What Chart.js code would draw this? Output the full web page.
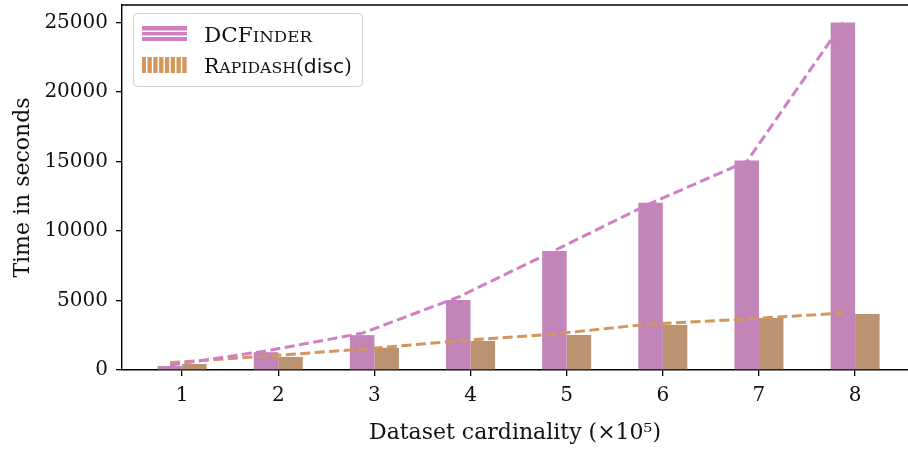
<!DOCTYPE html>
<html>
<head>
<meta charset="utf-8">
<script src="https://cdn.jsdelivr.net/npm/chart.js@4.4.1/dist/chart.umd.min.js"></script>
<style>
  html, body { margin: 0; padding: 0; background: #fff; overflow: hidden; }
</style>
</head>
<body>
<canvas id="myChart" width="908" height="449"></canvas>
<script>
// dataset cardinality in units of 10^5
const cardinality = [1, 2, 3, 4, 5, 6, 7, 8];
// runtimes in seconds (bars)
const dcfinderTime = [290, 1280, 2510, 5040, 8560, 12030, 15060, 25000];
const rapidashTime = [430, 940, 1590, 2090, 2520, 3240, 3740, 4030];
// dashed trend lines
const dcfinderTrend = [350, 1370, 2650, 5250, 8600, 12000, 15000, 25000];
const rapidashTrend = [530, 1000, 1500, 2090, 2590, 3310, 3670, 4100];
const yTicks = [0, 5000, 10000, 15000, 20000, 25000];

const purpleBar = '#c285b7';
const purpleLine = '#d27ec6';
const orangeBar = '#bc9370';
const orangeLine = '#d4965c';
const serif = "'DejaVu Serif', serif";

const lineShift = -0.125;

// top spine (left and bottom come from the axis borders)
const frame = {
  id: 'frame',
  afterDraw(chart) {
    const { ctx, chartArea: a } = chart;
    ctx.save();
    ctx.strokeStyle = '#000';
    ctx.lineWidth = 1.4;
    ctx.beginPath();
    ctx.moveTo(a.left, a.top);
    ctx.lineTo(a.right, a.top);
    ctx.stroke();
    ctx.restore();
  }
};

function drawRuns(ctx, x, y, runs, width) {
  let total = 0;
  runs.forEach(r => { ctx.font = r.font; total += ctx.measureText(r.text).width; });
  ctx.save();
  ctx.translate(x, y);
  ctx.scale(width / total, 1);
  let cx = 0;
  runs.forEach(r => {
    ctx.font = r.font;
    ctx.fillText(r.text, cx, 0);
    cx += ctx.measureText(r.text).width;
  });
  ctx.restore();
}

const legendBox = {
  id: 'legendBox',
  afterDraw(chart) {
    const ctx = chart.ctx;
    ctx.save();
    ctx.beginPath();
    ctx.roundRect(133.5, 13.5, 229, 73, 4);
    ctx.fillStyle = 'rgba(255,255,255,0.8)';
    ctx.fill();
    ctx.strokeStyle = '#d0d0d0';
    ctx.lineWidth = 1;
    ctx.stroke();

    // DCFinder swatch: horizontal hatch
    ctx.fillStyle = purpleLine;
    ctx.fillRect(142, 26, 45, 15);
    ctx.fillStyle = '#fff';
    ctx.fillRect(142, 30.5, 45, 1.5);
    ctx.fillRect(142, 35.5, 45, 1.5);

    // Rapidash swatch: vertical hatch
    ctx.fillStyle = orangeLine;
    ctx.fillRect(142, 57, 45, 16);
    ctx.fillStyle = '#fff';
    for (let x = 146; x < 187; x += 5.8) ctx.fillRect(x, 57, 1.5, 16);

    ctx.fillStyle = '#111';
    ctx.textBaseline = 'alphabetic';
    const big = "20px " + serif, small = "15.5px " + serif;
    drawRuns(ctx, 204, 41.5, [
      { text: 'DCF', font: big }, { text: 'INDER', font: small }
    ], 108);
    drawRuns(ctx, 204, 72.5, [
      { text: 'R', font: big }, { text: 'APIDASH', font: small },
      { text: '(', font: big }, { text: 'disc', font: "20px 'DejaVu Sans', sans-serif" },
      { text: ')', font: big }
    ], 148);
    ctx.restore();
  }
};

// drop the extra edge room Chart.js reserves for tick labels
function noEdgePadding(s) {
  s.paddingTop = 0; s.paddingBottom = 0;
  s.paddingLeft = 0; s.paddingRight = 0;
}

const config = {
  type: 'bar',
  data: {
    datasets: [
      {
        label: 'DCFinder',
        data: cardinality.map((c, i) => ({ x: c, y: dcfinderTime[i] })),
        backgroundColor: purpleBar,
        borderWidth: 0,
        categoryPercentage: 0.51,
        barPercentage: 1,
        order: 2
      },
      {
        label: 'Rapidash(disc)',
        data: cardinality.map((c, i) => ({ x: c, y: rapidashTime[i] })),
        backgroundColor: orangeBar,
        borderWidth: 0,
        categoryPercentage: 0.51,
        barPercentage: 1,
        order: 2
      },
      {
        type: 'line',
        data: cardinality.map((c, i) => ({ x: c + lineShift, y: dcfinderTrend[i] })),
        borderColor: purpleLine,
        borderWidth: 3,
        borderDash: [10, 4.5],
        pointRadius: 0,
        tension: 0,
        order: 1
      },
      {
        type: 'line',
        data: cardinality.map((c, i) => ({ x: c + lineShift, y: rapidashTrend[i] })),
        borderColor: orangeLine,
        borderWidth: 3,
        borderDash: [10, 4.5],
        pointRadius: 0,
        tension: 0,
        order: 1
      }
    ]
  },
  options: {
    responsive: false,
    animation: false,
    devicePixelRatio: 1,
    layout: { padding: { left: 0, top: 5, right: 0, bottom: 0 } },
    plugins: { legend: { display: false }, tooltip: { enabled: false } },
    scales: {
      x: {
        type: 'linear',
        offset: false,
        min: 0.375,
        max: 8.55,
        afterBuildTicks: s => { s.ticks = cardinality.map(v => ({ value: v })); },
        afterFit: s => { s.height = 79; noEdgePadding(s); },
        grid: { display: true, offset: false, drawOnChartArea: false, drawTicks: true, tickLength: 6, color: '#000', lineWidth: 1.3 },
        border: { display: true, color: '#000', width: 1.4 },
        ticks: { color: '#111', font: { family: serif, size: 20 }, padding: 8, maxRotation: 0, callback: v => String(v) },
        title: {
          display: true,
          text: 'Dataset cardinality (×10⁵)',
          color: '#111',
          font: { family: serif, size: 22 },
          padding: { top: 0, bottom: 3 }
        }
      },
      y: {
        min: 0,
        max: 26250,
        afterBuildTicks: s => { s.ticks = yTicks.map(v => ({ value: v })); },
        afterFit: s => { s.width = 122; noEdgePadding(s); },
        grid: { display: true, drawOnChartArea: false, drawTicks: true, tickLength: 6, color: '#000', lineWidth: 1.3 },
        border: { display: true, color: '#000', width: 1.4 },
        ticks: { color: '#111', font: { family: serif, size: 20 }, padding: 8, callback: v => String(v) },
        title: {
          display: true,
          text: 'Time in seconds',
          color: '#111',
          font: { family: serif, size: 22 },
          padding: { top: 10, bottom: 0 }
        }
      }
    }
  },
  plugins: [frame, legendBox]
};

const ctx = document.getElementById('myChart').getContext('2d');
const chart = new Chart(ctx, config);
</script>
</body>
</html>
